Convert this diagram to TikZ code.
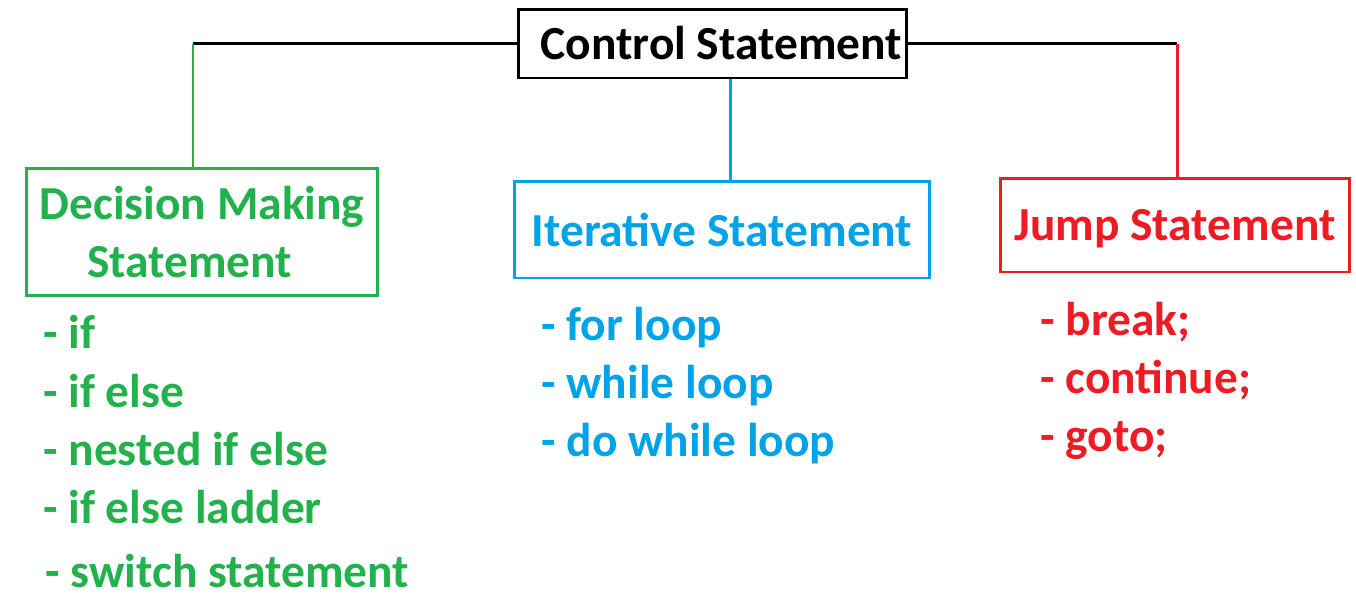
\documentclass[tikz,border=0pt]{standalone}
\usepackage{fontspec}
\setmainfont{Carlito}
\usetikzlibrary{positioning}

\definecolor{dmgreen}{HTML}{22B14C}
\definecolor{itblue}{HTML}{00A2E8}
\definecolor{jpred}{HTML}{ED1C24}

\tikzset{
  headbox/.style={draw,line width=1.7pt,inner sep=0pt,align=center,
    font=\fontsize{27}{32.5}\selectfont\bfseries},
  listitem/.style={anchor=base west,inner sep=0pt,
    font=\fontsize{27}{32.5}\selectfont\bfseries},
  link/.style={line width=1.7pt}
}

\begin{document}
\begin{tikzpicture}[x=0.02cm,y=-0.02cm]
  \useasboundingbox (0,0) rectangle (1356,609);

  \node[headbox,minimum width=7.78cm,minimum height=1.38cm] (ctrl)
    at (712.5,43.5) {\hspace*{10pt}Control Statement};
  \node[headbox,dmgreen,minimum width=7.04cm,minimum height=2.54cm] (dec)
    at (202,232) {Decision Making\\Statement\hspace*{14pt}};
  \node[headbox,itblue,minimum width=8.32cm,minimum height=1.94cm,
    text depth=0pt] (iter) at (722,229.5) {Iterative Statement};
  \node[headbox,jpred,minimum width=7cm,minimum height=1.88cm,
    text depth=0pt] (jump) at (1175,225) {Jump Statement};

  % connectors
  \coordinate (lt) at (193,43.5);
  \coordinate (rt) at (1177,43.5);
  \draw[link] (ctrl.west) -- (lt);
  \draw[link,dmgreen] (lt) -- (lt |- dec.north);
  \draw[link] (ctrl.east) -- (rt);
  \draw[link,jpred] (rt) -- (rt |- jump.north);
  \draw[link,itblue] (ctrl.south -| 730,0) -- (iter.north -| 730,0);

  % decision making
  \node[listitem,dmgreen] (dif)     at (43,348) {- if};
  \node[listitem,dmgreen] (difelse) at (43,407) {- if else};
  \node[listitem,dmgreen] (dnested) at (43,465) {- nested if else};
  \node[listitem,dmgreen] (dladder) at (43,523) {- if else ladder};
  \node[listitem,dmgreen] (dswitch) at (45,587) {- switch statement};

  % iterative
  \node[listitem,itblue] (ifor)   at (541,340) {- for loop};
  \node[listitem,itblue] (iwhile) at (541,398) {- while loop};
  \node[listitem,itblue] (ido)    at (541,456) {- do while loop};

  % jump
  \node[listitem,jpred] (jbreak) at (1040,335) {- break;};
  \node[listitem,jpred] (jcont)  at (1040,393) {- continue;};
  \node[listitem,jpred] (jgoto)  at (1040,451) {- goto;};
\end{tikzpicture}
\end{document}
